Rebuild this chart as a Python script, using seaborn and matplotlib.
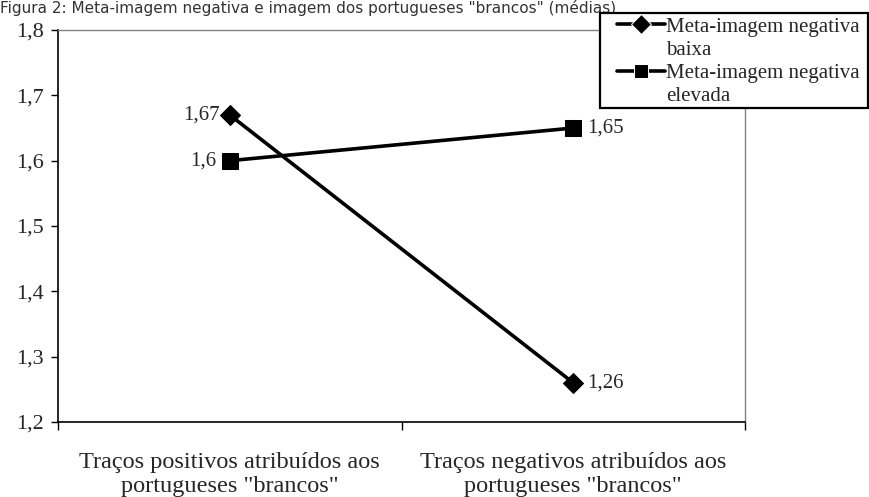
import matplotlib
matplotlib.use("Agg")
import matplotlib.pyplot as plt
import matplotlib.patches as mpatches
from matplotlib.lines import Line2D
import seaborn as sns
import pandas as pd

categories = ['Traços positivos atribuídos aos\nportugueses "brancos"',
              'Traços negativos atribuídos aos\nportugueses "brancos"']
baixa = [1.67, 1.26]
elevada = [1.60, 1.65]
series_names = ["Meta-imagem negativa\nbaixa", "Meta-imagem negativa\nelevada"]
yticks = [1.2, 1.3, 1.4, 1.5, 1.6, 1.7, 1.8]
title = 'Figura 2: Meta-imagem negativa e imagem dos portugueses "brancos" (médias)'

sns.set_theme(style="white")
plt.rcParams['font.family'] = ['Liberation Serif', 'DejaVu Serif']

df = pd.DataFrame({
    "x": [0, 1, 0, 1],
    "y": baixa + elevada,
    "serie": [series_names[0]] * 2 + [series_names[1]] * 2,
})

fig = plt.figure(figsize=(8.69, 4.97), dpi=100)
ax = fig.add_axes([58 / 869, 1 - 422 / 497, (745 - 58) / 869, (422 - 30) / 497])

sns.lineplot(data=df, x="x", y="y", hue="serie", style="serie",
             palette=["black", "black"], markers=["D", "s"], dashes=False,
             linewidth=2.6, markersize=10, ax=ax, legend=True)
for line, ms in zip(ax.lines[:2], [10.5, 11.5]):
    line.set_markersize(ms)
    line.set_markeredgecolor("black")

ax.set_xlim(-0.5, 1.5)
ax.set_ylim(1.2, 1.8)
ax.set_xticks([0, 1])
ax.set_xticklabels(categories, fontsize=17.5, linespacing=1.2)
ax.set_xticks([-0.5, 0.5, 1.5], minor=True)
ax.tick_params(axis="x", which="major", length=0, pad=21.5)
ax.tick_params(axis="x", which="minor", length=6, width=1, color="black", direction="out", bottom=True)
ax.set_yticks(yticks)
ax.set_yticklabels([f"{v:.1f}".replace(".", ",") for v in yticks], fontsize=16)
ax.tick_params(axis="y", length=5, width=1, color="black", direction="out", left=True, pad=5)
ax.set_xlabel("")
ax.set_ylabel("")

for sp in ["left", "bottom"]:
    ax.spines[sp].set_color("black")
    ax.spines[sp].set_linewidth(1.2)
for sp in ["top", "right"]:
    ax.spines[sp].set_color("#808080")
    ax.spines[sp].set_linewidth(1.0)

def fmt(v):
    s = f"{v:.2f}".rstrip("0").rstrip(".")
    return s.replace(".", ",")

lab_fs = 15
ax.annotate(fmt(baixa[0]), (0, baixa[0]), xytext=(-7, 0), textcoords="offset points",
            ha="right", va="center", fontsize=lab_fs)
ax.annotate(fmt(baixa[1]), (1, baixa[1]), xytext=(10, 0), textcoords="offset points",
            ha="left", va="center", fontsize=lab_fs)
ax.annotate(fmt(elevada[0]), (0, elevada[0]), xytext=(-10, 0), textcoords="offset points",
            ha="right", va="center", fontsize=lab_fs)
ax.annotate(fmt(elevada[1]), (1, elevada[1]), xytext=(10, 0), textcoords="offset points",
            ha="left", va="center", fontsize=lab_fs)

# legend: split each label so the handle sits on the first line
handles, labels = ax.get_legend_handles_labels()
ax.get_legend().remove()
new_h, new_l = [], []
for h, l in zip(handles, labels):
    first, second = l.split("\n")
    h.set_linewidth(2.6)
    h.set_color("black")
    new_h += [h, Line2D([], [], color="none")]
    new_l += [first, second]

frame = mpatches.Rectangle((600 / 869, 1 - 108 / 497), 268 / 869, 95 / 497,
                           transform=fig.transFigure, fill=True, facecolor="white",
                           edgecolor="black", linewidth=1.6, zorder=5)
fig.patches.append(frame)

leg = fig.legend(new_h, new_l, loc="upper left", bbox_to_anchor=(617 / 869, 1 - 17 / 497),
                 bbox_transform=fig.transFigure, fontsize=15, frameon=False,
                 handlelength=2.3, handletextpad=0.05,
                 borderpad=0.0, labelspacing=0.17, borderaxespad=0)
leg.set_zorder(10)

fig.text(0.0, 1.0, title, fontsize=11, color="#333333",
         family=["DejaVu Sans"], ha="left", va="top")

fig.savefig("out.png", dpi=100)
